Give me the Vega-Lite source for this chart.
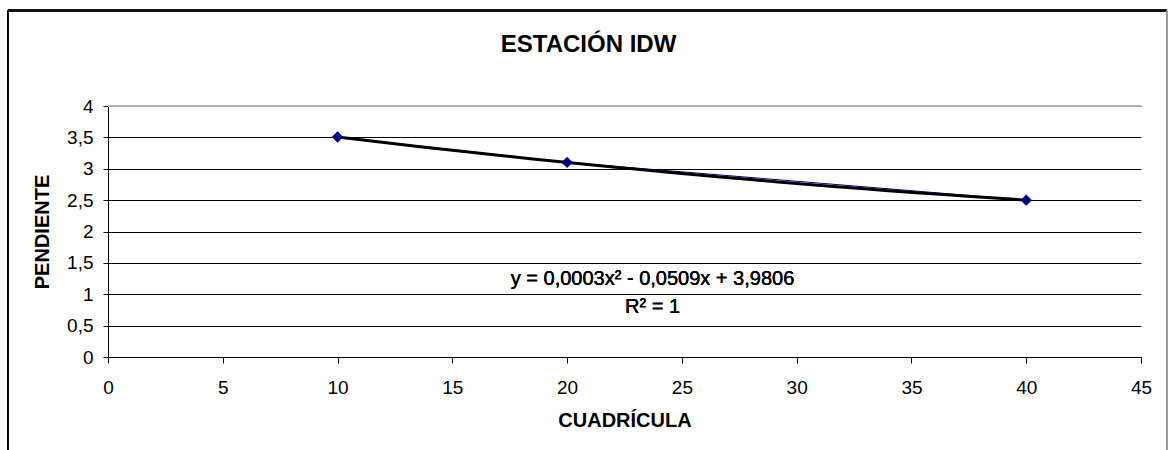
{
  "$schema": "https://vega.github.io/schema/vega-lite/v6.json",
  "autosize": "none",
  "width": 1033,
  "height": 251,
  "padding": {"left": 108, "top": 106, "right": 27, "bottom": 93},
  "background": "white",
  "config": {
    "font": "Liberation Sans",
    "view": {"stroke": null},
    "axis": {"labelFont": "Liberation Sans", "titleFont": "Liberation Sans", "labelColor": "#000", "titleColor": "#000", "domainColor": "#000", "tickColor": "#000", "labelFontSize": 19, "titleFontSize": 20, "titleFontWeight": "bold", "labelFlush": false, "labelOverlap": false},
    "axisX": {"grid": false, "tickSize": 6, "labelPadding": 15, "titlePadding": 13},
    "axisY": {"grid": true, "gridColor": "#000000", "gridOpacity": 1, "tickSize": 5, "labelPadding": 10, "titlePadding": 14}
  },
  "title": {"text": "ESTACIÓN IDW", "anchor": "middle", "frame": "group", "dx": -36, "offset": -66, "baseline": "alphabetic", "fontSize": 24, "fontWeight": "bold", "font": "Liberation Sans", "color": "#000"},
  "datasets": {
    "pts": [
      {"cuadricula": 10, "pendiente": 3.506},
      {"cuadricula": 20, "pendiente": 3.101},
      {"cuadricula": 40, "pendiente": 2.5}
    ]
  },
  "data": {"name": "pts"},
  "encoding": {
    "x": {"field": "cuadricula", "type": "quantitative", "scale": {"domain": [0, 45], "nice": false, "zero": false},
      "axis": {"title": "CUADRÍCULA", "values": [0,5,10,15,20,25,30,35,40,45]}},
    "y": {"field": "pendiente", "type": "quantitative", "scale": {"domain": [0, 4], "nice": false, "zero": true},
      "axis": {"title": "PENDIENTE", "values": [0,0.5,1,1.5,2,2.5,3,3.5,4], "labelExpr": "replace(toString(datum.value), '.', ',')"}}
  },
  "layer": [
    {
      "mark": {"type": "rule", "color": "#b0b0b0", "strokeWidth": 1.5},
      "encoding": {
        "x": {"datum": 0, "type": "quantitative", "axis": {"title": "CUADRÍCULA", "values": [0,5,10,15,20,25,30,35,40,45]}},
        "x2": {"datum": 45},
        "y": {"datum": 4, "type": "quantitative", "axis": {"title": "PENDIENTE", "values": [0,0.5,1,1.5,2,2.5,3,3.5,4], "labelExpr": "replace(toString(datum.value), '.', ',')"}}
      }
    },
    {
      "mark": {"type": "line", "color": "#000080", "strokeWidth": 1}
    },
    {
      "transform": [{"regression": "pendiente", "on": "cuadricula", "method": "poly", "order": 2, "extent": [10, 40]}],
      "mark": {"type": "line", "color": "#000000", "strokeWidth": 3}
    },
    {
      "mark": {"type": "point", "shape": "diamond", "filled": true, "color": "#000080", "size": 130, "opacity": 1}
    },
    {
      "mark": {"type": "text", "text": "y = 0,0003x² - 0,0509x + 3,9806", "fontSize": 20, "fontWeight": "normal", "font": "Liberation Sans", "color": "#000", "align": "center", "baseline": "alphabetic"},
      "encoding": {
        "x": {"datum": 23.72, "type": "quantitative", "axis": {"title": "CUADRÍCULA", "values": [0,5,10,15,20,25,30,35,40,45]}},
        "y": {"datum": 1.144, "type": "quantitative", "axis": {"title": "PENDIENTE", "values": [0,0.5,1,1.5,2,2.5,3,3.5,4], "labelExpr": "replace(toString(datum.value), '.', ',')"}}
      }
    },
    {
      "mark": {"type": "text", "text": "R² = 1", "fontSize": 20, "fontWeight": "normal", "font": "Liberation Sans", "color": "#000", "align": "center", "baseline": "alphabetic"},
      "encoding": {
        "x": {"datum": 23.72, "type": "quantitative", "axis": {"title": "CUADRÍCULA", "values": [0,5,10,15,20,25,30,35,40,45]}},
        "y": {"datum": 0.697, "type": "quantitative", "axis": {"title": "PENDIENTE", "values": [0,0.5,1,1.5,2,2.5,3,3.5,4], "labelExpr": "replace(toString(datum.value), '.', ',')"}}
      }
    },
    {
      "mark": {"type": "rule", "color": "#000", "strokeWidth": 1.5, "clip": false},
      "encoding": {
        "x": {"datum": -4.36, "type": "quantitative", "axis": {"title": "CUADRÍCULA", "values": [0,5,10,15,20,25,30,35,40,45]}},
        "y": {"datum": 5.52, "type": "quantitative", "axis": {"title": "PENDIENTE", "values": [0,0.5,1,1.5,2,2.5,3,3.5,4], "labelExpr": "replace(toString(datum.value), '.', ',')"}},
        "y2": {"datum": -1.7}
      }
    },
    {
      "mark": {"type": "rule", "color": "#000", "strokeWidth": 2, "clip": false},
      "encoding": {
        "x": {"datum": -4.36, "type": "quantitative", "axis": {"title": "CUADRÍCULA", "values": [0,5,10,15,20,25,30,35,40,45]}},
        "x2": {"datum": 46.13},
        "y": {"datum": 5.52, "type": "quantitative", "axis": {"title": "PENDIENTE", "values": [0,0.5,1,1.5,2,2.5,3,3.5,4], "labelExpr": "replace(toString(datum.value), '.', ',')"}}
      }
    },
    {
      "mark": {"type": "rule", "color": "#999", "strokeWidth": 1.5, "clip": false},
      "encoding": {
        "x": {"datum": 46.13, "type": "quantitative", "axis": {"title": "CUADRÍCULA", "values": [0,5,10,15,20,25,30,35,40,45]}},
        "y": {"datum": 5.52, "type": "quantitative", "axis": {"title": "PENDIENTE", "values": [0,0.5,1,1.5,2,2.5,3,3.5,4], "labelExpr": "replace(toString(datum.value), '.', ',')"}},
        "y2": {"datum": -1.7}
      }
    }
  ]
}
